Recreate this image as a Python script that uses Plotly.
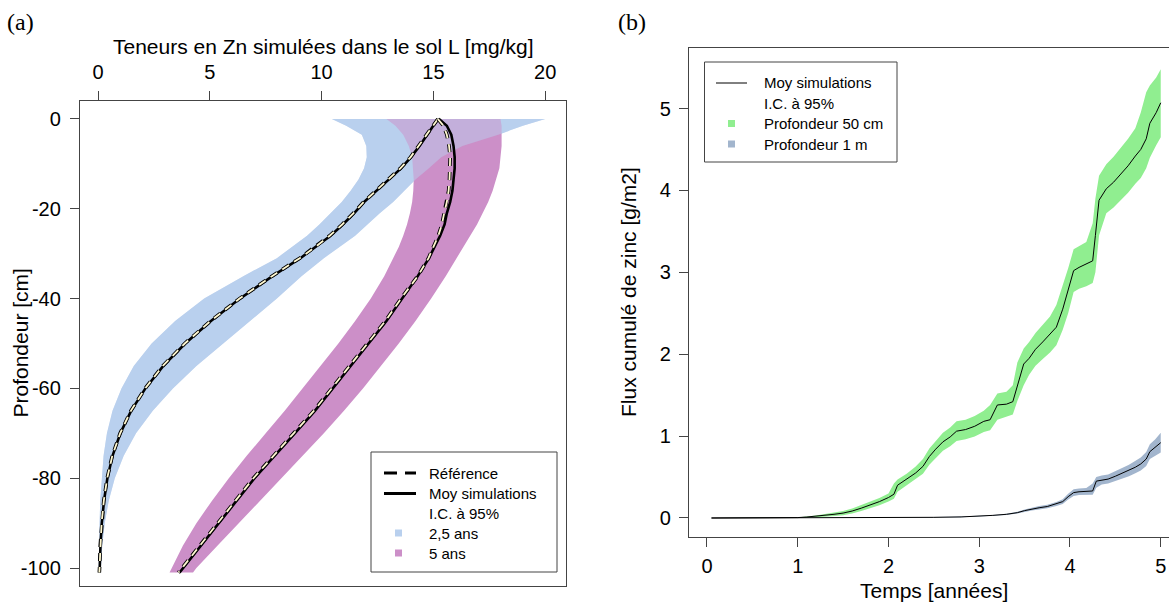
import plotly.graph_objects as go

W, H = 1169, 605

# ---------------- Panel (a) data: depth profiles ----------------
depth = [0, -1.5, -3.5, -6, -8.5, -11, -13.5, -16, -18.5, -21, -23.5, -26, -28.5, -31,
         -35, -40, -45, -50, -55, -60, -65, -70, -75, -80, -85, -90, -95, -100, -101]

mean_25 = [15.2, 15.0, 14.72, 14.38, 14.0, 13.55, 13.0, 12.45, 11.9, 11.45, 10.95, 10.4, 9.75, 9.05,
           7.8, 6.35, 5.05, 3.9, 2.92, 2.12, 1.48, 1.0, 0.65, 0.42, 0.27, 0.17, 0.11, 0.08, 0.07]
ref_25 = [15.2, 14.98, 14.7, 14.36, 13.98, 13.52, 12.98, 12.42, 11.88, 11.42, 10.92, 10.36, 9.72, 9.02,
          7.78, 6.33, 5.03, 3.88, 2.9, 2.11, 1.47, 0.99, 0.64, 0.41, 0.26, 0.16, 0.1, 0.07, 0.06]
low_25 = [10.46, 11.1, 11.8, 12.0, 12.02, 11.9, 11.65, 11.3, 10.9, 10.4, 9.9, 9.35, 8.7, 8.0,
          6.5, 4.75, 3.45, 2.4, 1.6, 1.05, 0.65, 0.4, 0.25, 0.16, 0.1, 0.07, 0.05, 0.035, 0.03]
high_25 = [20.0, 19.0, 17.9, 16.3, 15.35, 14.8, 14.2, 13.7, 13.2, 12.6, 12.05, 11.5, 10.8, 10.1,
           9.1, 8.0, 6.8, 5.6, 4.4, 3.35, 2.45, 1.7, 1.15, 0.75, 0.48, 0.3, 0.19, 0.13, 0.11]

mean_5 = [15.25, 15.6, 15.8, 15.9, 15.95, 15.95, 15.9, 15.85, 15.75, 15.6, 15.5, 15.3, 15.05, 14.8,
          14.3, 13.6, 12.9, 12.1, 11.3, 10.5, 9.7, 8.8, 7.9, 7.0, 6.2, 5.4, 4.6, 3.8, 3.65]
ref_5 = [15.2, 15.45, 15.6, 15.7, 15.75, 15.75, 15.72, 15.68, 15.6, 15.48, 15.38, 15.22, 15.0, 14.78,
         14.3, 13.55, 12.85, 12.05, 11.25, 10.45, 9.65, 8.75, 7.85, 6.95, 6.15, 5.35, 4.55, 3.75, 3.6]
low_5 = [12.9, 13.3, 13.65, 13.9, 14.05, 14.1, 14.12, 14.1, 14.05, 13.95, 13.82, 13.65, 13.45, 13.2,
         12.8, 12.2, 11.5, 10.75, 9.95, 9.15, 8.35, 7.5, 6.65, 5.85, 5.1, 4.4, 3.8, 3.3, 3.2]
high_5 = [18.0, 18.05, 18.05, 18.05, 18.0, 17.95, 17.8, 17.65, 17.45, 17.2, 16.95, 16.65, 16.35, 16.05,
          15.55, 14.9, 14.2, 13.45, 12.65, 11.85, 11.0, 10.1, 9.15, 8.2, 7.25, 6.3, 5.35, 4.4, 4.25]

xa_ticks = [0, 5, 10, 15, 20]
ya_ticks = [0, -20, -40, -60, -80, -100]
ya_ticktext = ["0", "-20", "-40", "-60", "-80", "-100"]

# ---------------- Panel (b) data: cumulative flux ----------------
t_50 = [0.05, 0.5, 0.92, 1.0, 1.1, 1.2, 1.3, 1.4, 1.5, 1.6, 1.7, 1.8, 1.9, 2.0, 2.06, 2.1, 2.2, 2.3,
        2.38, 2.45, 2.52, 2.6, 2.68, 2.75, 2.85, 2.95, 3.05, 3.12, 3.2, 3.3, 3.37, 3.42, 3.49, 3.55,
        3.62, 3.7, 3.78, 3.85, 3.92, 3.98, 4.04, 4.1, 4.18, 4.25, 4.28, 4.32, 4.4, 4.48, 4.56, 4.64,
        4.72, 4.78, 4.84, 4.88, 4.95, 5.0]
mean_50 = [0, 0, 0, 0.005, 0.012, 0.02, 0.03, 0.045, 0.06, 0.085, 0.12, 0.16, 0.2, 0.25, 0.29, 0.4,
           0.47, 0.55, 0.63, 0.75, 0.84, 0.93, 0.99, 1.06, 1.08, 1.12, 1.18, 1.2, 1.38, 1.39, 1.42,
           1.6, 1.88, 1.95, 2.06, 2.15, 2.24, 2.33, 2.55, 2.8, 3.02, 3.06, 3.1, 3.14, 3.45, 3.88,
           4.02, 4.1, 4.2, 4.3, 4.42, 4.5, 4.63, 4.82, 4.95, 5.07]
low_50 = [0, 0, 0, 0.002, 0.006, 0.01, 0.015, 0.025, 0.035, 0.055, 0.085, 0.12, 0.155, 0.2, 0.235,
          0.32, 0.4, 0.47, 0.54, 0.65, 0.735, 0.82, 0.875, 0.94, 0.96, 0.995, 1.05, 1.07, 1.2, 1.24,
          1.265, 1.43, 1.62, 1.75, 1.86, 1.94, 2.02, 2.11, 2.3, 2.5, 2.76, 2.8, 2.83, 2.87, 3.0,
          3.45, 3.72, 3.79, 3.88, 3.97, 4.08, 4.15, 4.27, 4.4, 4.55, 4.65]
high_50 = [0, 0, 0, 0.008, 0.018, 0.03, 0.045, 0.065, 0.085, 0.115, 0.155, 0.2, 0.245, 0.3, 0.42,
           0.47, 0.54, 0.63, 0.72, 0.85, 0.945, 1.04, 1.105, 1.18, 1.2, 1.245, 1.31, 1.38, 1.52,
           1.54, 1.62, 1.9, 2.07, 2.15, 2.26, 2.36, 2.46, 2.6, 2.85, 3.05, 3.28, 3.32, 3.37, 3.6,
           3.9, 4.18, 4.32, 4.41, 4.52, 4.63, 4.76, 4.95, 5.2, 5.28, 5.38, 5.48]

t_100 = [0.05, 0.5, 1.0, 1.5, 2.0, 2.2, 2.5, 2.8, 3.0, 3.15, 3.3, 3.42, 3.5, 3.58, 3.66, 3.75, 3.85,
         3.92, 3.98, 4.04, 4.1, 4.18, 4.25, 4.29, 4.35, 4.42, 4.5, 4.58, 4.65, 4.72, 4.78, 4.84,
         4.88, 4.94, 5.0]
mean_100 = [0, 0, 0, 0.001, 0.003, 0.004, 0.008, 0.013, 0.022, 0.032, 0.045, 0.065, 0.09, 0.11,
            0.125, 0.14, 0.17, 0.2, 0.26, 0.31, 0.32, 0.325, 0.33, 0.45, 0.465, 0.475, 0.51, 0.55,
            0.58, 0.62, 0.66, 0.72, 0.81, 0.86, 0.92]
low_100 = [0, 0, 0, 0.001, 0.002, 0.002, 0.005, 0.009, 0.017, 0.026, 0.037, 0.055, 0.075, 0.092,
           0.105, 0.118, 0.145, 0.17, 0.225, 0.27, 0.28, 0.283, 0.285, 0.37, 0.41, 0.42, 0.45,
           0.485, 0.51, 0.545, 0.58, 0.635, 0.72, 0.76, 0.80]
high_100 = [0, 0, 0, 0.001, 0.004, 0.006, 0.011, 0.017, 0.027, 0.038, 0.053, 0.075, 0.105, 0.128,
            0.145, 0.162, 0.195, 0.23, 0.295, 0.35, 0.36, 0.367, 0.42, 0.50, 0.52, 0.53, 0.57,
            0.615, 0.65, 0.695, 0.74, 0.805, 0.9, 0.96, 1.04]

xb_ticks = [0, 1, 2, 3, 4, 5]
yb_ticks = [0, 1, 2, 3, 4, 5]

# ---------------- colours ----------------
C_BLUE = "rgb(185,208,238)"
C_BLUE_HALF = "rgba(185,208,238,0.5)"
C_PURPLE = "rgb(204,143,200)"
C_GREEN = "rgb(144,238,144)"
C_STEEL = "rgb(162,181,205)"
C_CREAM = "rgb(255,248,208)"
C_AXIS = "#444444"
FONT = "Liberation Sans, Arial, sans-serif"

fig = go.Figure()


def band(xs, lo, hi, color, xa, ya, horizontal=False):
    if horizontal:
        fig.add_trace(go.Scatter(x=lo + hi[::-1], y=xs + xs[::-1], fill="toself",
                                 fillcolor=color, line=dict(width=0), mode="lines",
                                 hoverinfo="skip", showlegend=False, xaxis=xa, yaxis=ya))
    else:
        fig.add_trace(go.Scatter(x=xs + xs[::-1], y=lo + hi[::-1], fill="toself",
                                 fillcolor=color, line=dict(width=0), mode="lines",
                                 hoverinfo="skip", showlegend=False, xaxis=xa, yaxis=ya))


# Panel (a) bands: blue, purple, blue again half transparent (overlap blend)
band(depth, low_25, high_25, C_BLUE, "x", "y", horizontal=True)
band(depth, low_5, high_5, C_PURPLE, "x", "y", horizontal=True)
band(depth, low_25, high_25, C_BLUE_HALF, "x", "y", horizontal=True)

for mean, ref in ((mean_25, ref_25), (mean_5, ref_5)):
    fig.add_trace(go.Scatter(x=ref, y=depth, mode="lines",
                             line=dict(color="black", width=3.6, dash="8px,6px"),
                             showlegend=False, xaxis="x", yaxis="y"))
    fig.add_trace(go.Scatter(x=mean, y=depth, mode="lines",
                             line=dict(color="black", width=2.6),
                             showlegend=False, xaxis="x", yaxis="y"))
    fig.add_trace(go.Scatter(x=ref, y=depth, mode="lines",
                             line=dict(color=C_CREAM, width=1.8, dash="8px,6px"),
                             showlegend=False, xaxis="x", yaxis="y"))

# Panel (b) bands and means
band(t_50, low_50, high_50, C_GREEN, "x2", "y2")
band(t_100, low_100, high_100, C_STEEL, "x2", "y2")
fig.add_trace(go.Scatter(x=t_50, y=mean_50, mode="lines", line=dict(color="black", width=1),
                         showlegend=False, xaxis="x2", yaxis="y2"))
fig.add_trace(go.Scatter(x=t_100, y=mean_100, mode="lines", line=dict(color="black", width=1),
                         showlegend=False, xaxis="x2", yaxis="y2"))

# ---------------- layout geometry (pixels) ----------------
A_L, A_R, A_T, A_B = 80, 566, 101, 586
B_L, B_T, B_B = 689, 47.5, 536.5


def fx(px):
    return px / W


def fy(py):
    return 1 - py / H


axis_common = dict(showline=True, linecolor=C_AXIS, linewidth=1.3, ticks="outside",
                   ticklen=9, tickwidth=1.3, tickcolor=C_AXIS, showgrid=False, zeroline=False,
                   tickfont=dict(family=FONT, size=20, color="black"))

fig.update_layout(
    width=W, height=H, autosize=False,
    margin=dict(l=0, r=0, t=0, b=0),
    paper_bgcolor="white", plot_bgcolor="white",
    showlegend=False,
    xaxis=dict(domain=[fx(A_L), fx(A_R)], range=[-0.805, 20.93], side="top", anchor="y",
               tickvals=xa_ticks, ticktext=[str(v) for v in xa_ticks], mirror=True,
               ticklabelstandoff=4, **axis_common),
    yaxis=dict(domain=[fy(A_B), fy(A_T)], range=[-104.0, 4.0], anchor="x",
               tickvals=ya_ticks, ticktext=ya_ticktext, mirror=True,
               ticklabelstandoff=5, **axis_common),
    xaxis2=dict(domain=[fx(B_L), 1.0], range=[-0.198, 5.091], anchor="y2",
                tickvals=xb_ticks, ticktext=[str(v) for v in xb_ticks], mirror=True,
                ticklabelstandoff=2, **axis_common),
    yaxis2=dict(domain=[fy(B_B), fy(B_T)], range=[-0.226, 5.745], anchor="x2",
                tickvals=yb_ticks, ticktext=[str(v) for v in yb_ticks], mirror=False,
                ticklabelstandoff=4, **axis_common),
)

# ---------------- text ----------------
def label(text, x, y, size=21, angle=0, family=FONT, xanchor="center"):
    fig.add_annotation(text=text, x=fx(x), y=fy(y), xref="paper", yref="paper",
                       showarrow=False, textangle=angle, xanchor=xanchor, yanchor="middle",
                       font=dict(family=family, size=size, color="black"))


label("(a)", 20, 22, size=24, family="Liberation Serif, Times New Roman, serif")
label("(b)", 632, 22, size=24, family="Liberation Serif, Times New Roman, serif")
label("Teneurs en Zn simulées dans le sol L [mg/kg]", (A_L + A_R) / 2, 46)
label("Profondeur [cm]", 20, (A_T + A_B) / 2, angle=-90)
label("Flux cumulé de zinc [g/m2]", 628, (B_T + B_B) / 2, angle=-90)
label("Temps [années]", 934, 590)

# ---------------- legends (drawn manually, R style) ----------------
shapes = []


def rect(x0, y0, x1, y1, fill=None, line_color=C_AXIS, lw=1):
    shapes.append(dict(type="rect", xref="paper", yref="paper", x0=fx(x0), x1=fx(x1),
                       y0=fy(y1), y1=fy(y0), fillcolor=fill or "rgba(0,0,0,0)",
                       line=dict(color=line_color, width=lw)))


def hline(x0, x1, y, width, dash="solid"):
    shapes.append(dict(type="line", xref="paper", yref="paper", x0=fx(x0), x1=fx(x1),
                       y0=fy(y), y1=fy(y), line=dict(color="black", width=width, dash=dash)))


# Legend (a)
rect(371, 452, 557, 572, fill="white")
rows_a = [473, 493.5, 513.5, 533, 553]
hline(384, 416, rows_a[0], 3, dash="13px,8px")
hline(384, 416, rows_a[1], 3)
rect(395, rows_a[3] - 3.5, 402, rows_a[3] + 3.5, fill=C_BLUE, line_color=C_BLUE, lw=0)
rect(395, rows_a[4] - 3.5, 402, rows_a[4] + 3.5, fill=C_PURPLE, line_color=C_PURPLE, lw=0)
for txt, yy in zip(["Référence", "Moy simulations", "I.C. à 95%", "2,5 ans", "5 ans"], rows_a):
    label(txt, 427, yy, size=15, xanchor="left")

# Legend (b)
rect(704.5, 62, 897, 162, fill="white")
rows_b = [83, 103.5, 123.5, 144]
hline(716, 747, rows_b[0], 1)
rect(728, rows_b[2] - 3.5, 735, rows_b[2] + 3.5, fill=C_GREEN, line_color=C_GREEN, lw=0)
rect(728, rows_b[3] - 3.5, 735, rows_b[3] + 3.5, fill=C_STEEL, line_color=C_STEEL, lw=0)
for txt, yy in zip(["Moy simulations", "I.C. à 95%", "Profondeur 50 cm", "Profondeur 1 m"], rows_b):
    label(txt, 761.5, yy, size=15, xanchor="left")

fig.update_layout(shapes=shapes)

# remove the default page margin so the figure sits at the window's top-left corner
fig.write_html("out.html",
               config={"displayModeBar": False},
               post_script="document.body.style.margin='0px';"
                           "document.body.style.overflow='hidden';")
